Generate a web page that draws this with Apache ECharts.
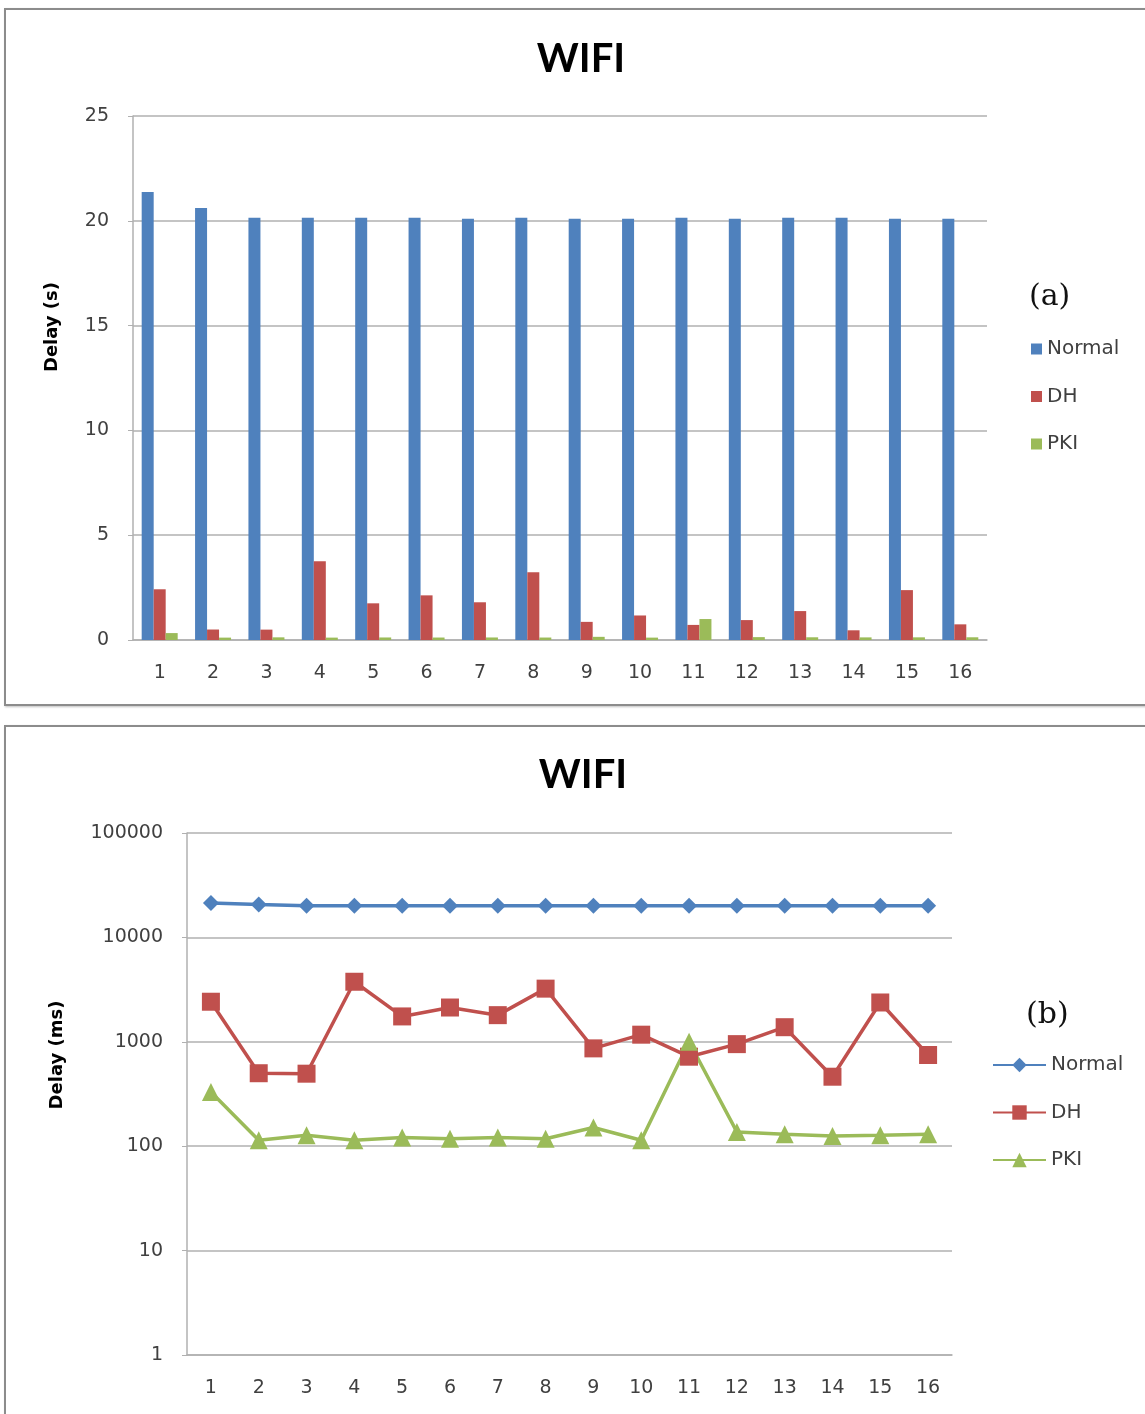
<!DOCTYPE html>
<html>
<head>
<meta charset="utf-8">
<script src="https://cdn.jsdelivr.net/npm/echarts@6/dist/echarts.min.js"></script>
<style>
  html, body { margin: 0; padding: 0; background: #fff; }
  body { width: 1145px; height: 1414px; overflow: hidden; position: relative; }
  .panel { position: absolute; border: 2px solid #8c8c8c; box-shadow: 1px 1px 2px rgba(0,0,0,0.25); background: #fff; }
  #p1 { left: 4px; top: 8px; width: 1160px; height: 694px; }
  #p2 { left: 4px; top: 725px; width: 1160px; height: 720px; }
  .chart { position: absolute; left: 0; }
  #c1 { top: 0; width: 1145px; height: 715px; }
  #c2 { top: 715px; width: 1145px; height: 699px; }
</style>
</head>
<body>
<div class="panel" id="p1"></div>
<div class="panel" id="p2"></div>
<div class="chart" id="c1"></div>
<div class="chart" id="c2"></div>
<script>
// Handshake delay over WiFi for 16 runs, in milliseconds
const runs = ['1','2','3','4','5','6','7','8','9','10','11','12','13','14','15','16'];
const normalMs = [21370, 20610, 20150, 20150, 20150, 20150, 20100, 20150, 20100, 20100, 20150, 20100, 20150, 20150, 20100, 20100];
const dhMs     = [2420, 500, 495, 3760, 1750, 2130, 1800, 3230, 865, 1170, 720, 950, 1380, 463, 2380, 747];
const pkiMs    = [330, 114, 127, 114, 121, 118, 121, 118, 151, 114, 1000, 137, 130, 125, 127, 130];
const linearTicks = [0, 5, 10, 15, 20, 25];
const logTicks = [1, 10, 100, 1000, 10000, 100000];

const toSeconds = arr => arr.map(v => v / 1000);

const C_NORMAL = '#4f81bd', C_DH = '#c0504d', C_PKI = '#9bbb59';
const FONT = 'DejaVu Sans';
const GRID_COLOR = '#b0b0b0';

const labelStyle = { fontFamily: FONT, fontSize: 19, color: '#404040' };
const legendText = { fontFamily: FONT, fontSize: 20, color: '#404040' };
const titleStyle = { fontFamily: 'Lato', fontSize: 40, fontWeight: 'bold', color: '#000' };

// rotated axis title placed beside the value axis
function axisTitle(text, x, y) {
  return {
    type: 'text', x: x, y: y, rotation: Math.PI / 2,
    style: { text: text, font: 'bold 18px "DejaVu Sans"', fill: '#000', align: 'center', verticalAlign: 'middle' }
  };
}

// (a) bar chart, seconds
const chart1 = echarts.init(document.getElementById('c1'), null, { renderer: 'canvas' });
chart1.setOption({
  animation: false,
  title: { text: 'WIFI', left: 576, top: 34, textAlign: 'center', textStyle: titleStyle },
  grid: { left: 133, top: 116, width: 854, height: 524, containLabel: false },
  legend: {
    orient: 'vertical', left: 1031, top: 339, itemGap: 27.5, padding: 0,
    itemWidth: 11, itemHeight: 11, icon: 'rect',
    textStyle: legendText,
    data: ['Normal', 'DH', 'PKI']
  },
  graphic: [
    { type: 'text', left: 1029, top: 282, style: { text: '(a)', font: '30px "DejaVu Serif"', fill: '#111' } },
    axisTitle('Delay (s)', 52, 327)
  ],
  xAxis: {
    type: 'category', data: runs,
    axisLine: { lineStyle: { color: GRID_COLOR, width: 1.5 } },
    axisTick: { show: false },
    axisLabel: Object.assign({ margin: 24 }, labelStyle)
  },
  yAxis: {
    type: 'value', min: linearTicks[0], max: linearTicks[linearTicks.length - 1], interval: 5,
    axisLine: { show: true, lineStyle: { color: GRID_COLOR, width: 1.5 } },
    axisTick: { show: true, length: 5, lineStyle: { color: GRID_COLOR } },
    axisLabel: Object.assign({ margin: 24 }, labelStyle),
    splitLine: { lineStyle: { color: GRID_COLOR, width: 1.5 } }
  },
  series: [
    { name: 'Normal', type: 'bar', data: toSeconds(normalMs), barWidth: 12, barGap: '0%', itemStyle: { color: C_NORMAL } },
    { name: 'DH', type: 'bar', data: toSeconds(dhMs), barWidth: 12, barGap: '0%', itemStyle: { color: C_DH } },
    { name: 'PKI', type: 'bar', data: toSeconds(pkiMs), barWidth: 12, barGap: '0%', itemStyle: { color: C_PKI } }
  ]
});

// (b) line chart, milliseconds on a log scale
const chart2 = echarts.init(document.getElementById('c2'), null, { renderer: 'canvas' });
chart2.setOption({
  animation: false,
  title: { text: 'WIFI', left: 578, top: 35, textAlign: 'center', textStyle: titleStyle },
  grid: { left: 187, top: 118, width: 765, height: 522, containLabel: false },
  legend: {
    orient: 'vertical', left: 992, top: 340, itemGap: 27.5, padding: 0,
    itemWidth: 53, itemHeight: 18,
    textStyle: legendText,
    data: ['Normal', 'DH', 'PKI']
  },
  graphic: [
    { type: 'text', left: 1026, top: 285, style: { text: '(b)', font: '30px "DejaVu Serif"', fill: '#111' } },
    axisTitle('Delay (ms)', 57, 340)
  ],
  xAxis: {
    type: 'category', data: runs, boundaryGap: true,
    axisLine: { lineStyle: { color: GRID_COLOR, width: 1.5 } },
    axisTick: { show: false },
    axisLabel: Object.assign({ margin: 24 }, labelStyle)
  },
  yAxis: {
    type: 'log', logBase: 10, min: logTicks[0], max: logTicks[logTicks.length - 1],
    axisLine: { show: true, lineStyle: { color: GRID_COLOR, width: 1.5 } },
    axisTick: { show: true, length: 5, lineStyle: { color: GRID_COLOR } },
    axisLabel: Object.assign({ margin: 24, formatter: v => String(Math.round(v)) }, labelStyle),
    splitLine: { lineStyle: { color: GRID_COLOR, width: 1.5 } }
  },
  series: [
    { name: 'Normal', type: 'line', data: normalMs, symbol: 'diamond', symbolSize: 16,
      lineStyle: { color: C_NORMAL, width: 3.5 }, itemStyle: { color: C_NORMAL } },
    { name: 'DH', type: 'line', data: dhMs, symbol: 'rect', symbolSize: 18,
      lineStyle: { color: C_DH, width: 3.5 }, itemStyle: { color: C_DH } },
    { name: 'PKI', type: 'line', data: pkiMs, symbol: 'triangle', symbolSize: 18,
      lineStyle: { color: C_PKI, width: 3.5 }, itemStyle: { color: C_PKI } }
  ]
});
</script>
</body>
</html>
